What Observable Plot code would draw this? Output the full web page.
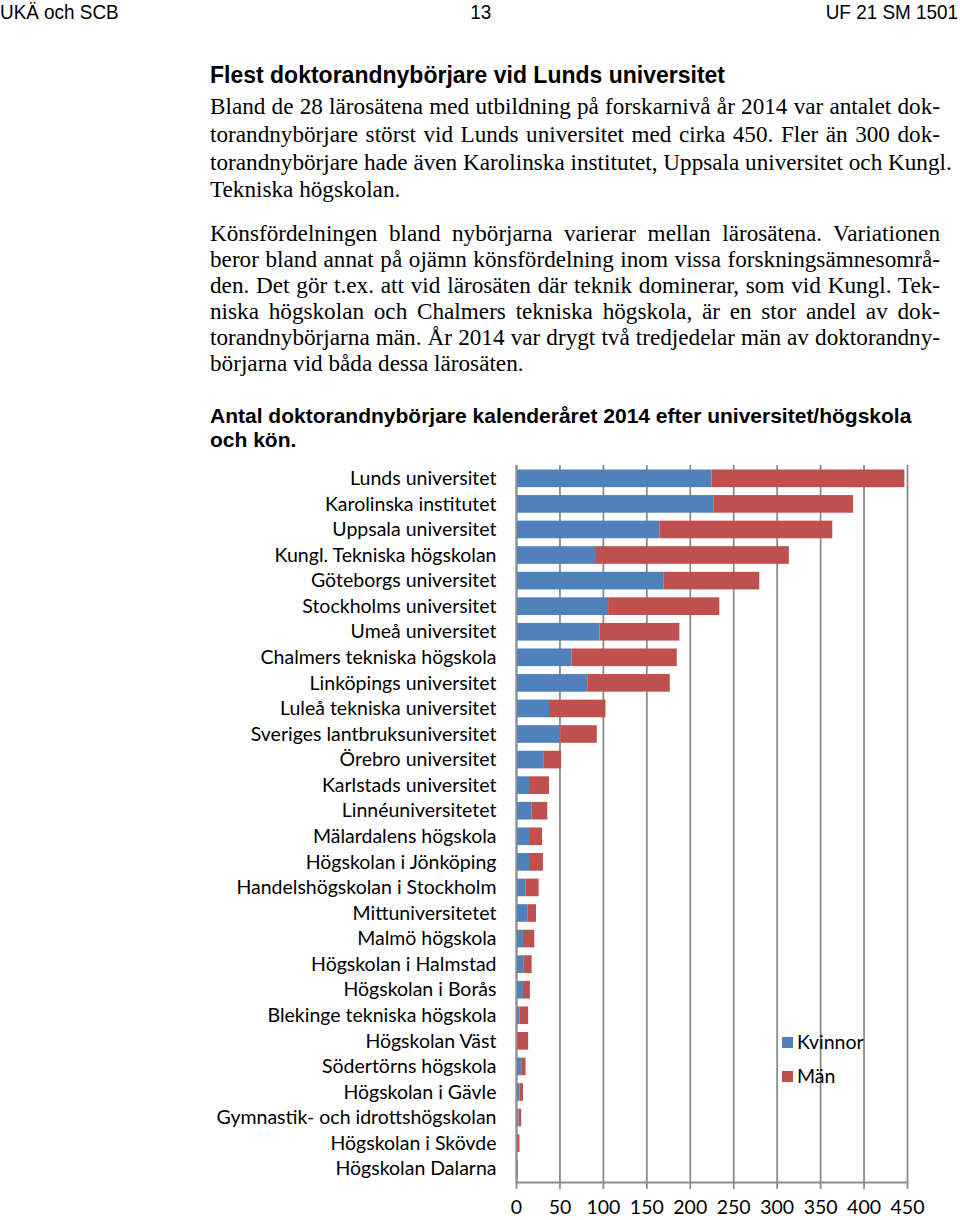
<!DOCTYPE html>
<html>
<head>
<meta charset="utf-8">
<script src="https://cdn.jsdelivr.net/npm/d3@7"></script>
<script src="https://cdn.jsdelivr.net/npm/@observablehq/plot@0.6"></script>
<style>
  html, body { margin:0; padding:0; background:#fff; }
  body { width:960px; height:1220px; position:relative; overflow:hidden; color:#000; }
  .hdr { position:absolute; top:0; font-family:"Liberation Sans Narrow","Liberation Sans",Arial,sans-serif; font-size:21px; line-height:24px; white-space:nowrap; }
  .hdr span { display:inline-block; transform:scaleX(0.9); }
  .h2 { position:absolute; left:210px; font-family:"Liberation Sans",Arial,sans-serif; font-weight:bold; font-size:23px; line-height:28px; white-space:nowrap; }
  .body { position:absolute; left:210px; width:730px; font-family:"Liberation Serif","Times New Roman",serif; font-size:23.2px; }
  .ln { height:0; position:absolute; left:0; width:730px; white-space:nowrap; }
  .ln span { display:block; position:absolute; left:0; width:730px; transform:translateY(-50%); text-align:justify; text-align-last:justify; }
  .ln.last span { text-align:left; text-align-last:left; }
  .ctitle { position:absolute; left:210px; font-family:"Liberation Sans",Arial,sans-serif; font-weight:bold; font-size:21px; line-height:24px; white-space:nowrap; }
  #chart { position:absolute; left:0; top:455px; line-height:0; }
  .leg { position:absolute; font-family:Lato,"Open Sans",sans-serif; font-size:19.5px; line-height:22px; }
  .sw { position:absolute; width:11px; height:11px; }
</style>
</head>
<body>
<div class="hdr" style="left:0;"><span style="transform-origin:left center;">UKÄ och SCB</span></div>
<div class="hdr" style="left:0;width:962px;text-align:center;"><span>13</span></div>
<div class="hdr" style="right:2px;"><span style="transform-origin:right center;">UF 21 SM 1501</span></div>

<div class="h2" style="top:61px;">Flest doktorandnybörjare vid Lunds universitet</div>

<div class="body" id="p1" style="top:0;"></div>

<div class="ctitle" style="top:404px;">Antal doktorandnybörjare kalenderåret 2014 efter universitet/högskola<br>och kön.</div>

<div id="chart"></div>

<div class="sw" style="left:782px;top:1037px;background:#4F81BD;"></div>
<div class="leg" style="left:797px;top:1031px;">Kvinnor</div>
<div class="sw" style="left:782px;top:1071px;background:#C0504D;"></div>
<div class="leg" style="left:797px;top:1065px;">Män</div>

<script>
// ---- text lines ----
const bodyLines = [
  ["Bland de 28 lärosätena med utbildning på forskarnivå år 2014 var antalet dok-", 106, false],
  ["torandnybörjare störst vid Lunds universitet med cirka 450. Fler än 300 dok-", 134, false],
  ["torandnybörjare hade även Karolinska institutet, Uppsala universitet och Kungl.", 162, false],
  ["Tekniska högskolan.", 189, true],
  ["Könsfördelningen bland nybörjarna varierar mellan lärosätena. Variationen", 233, false],
  ["beror bland annat på ojämn könsfördelning inom vissa forskningsämnesområ-", 259, false],
  ["den. Det gör t.ex. att vid lärosäten där teknik dominerar, som vid Kungl. Tek-", 285, false],
  ["niska högskolan och Chalmers tekniska högskola, är en stor andel av dok-", 311, false],
  ["torandnybörjarna män. År 2014 var drygt två tredjedelar män av doktorandny-", 337, false],
  ["börjarna vid båda dessa lärosäten.", 363, true]
];
const p1 = document.getElementById("p1");
for (const [t, y, last] of bodyLines) {
  const d = document.createElement("div");
  d.className = "ln" + (last ? " last" : "");
  d.style.top = y + "px";
  const s = document.createElement("span");
  s.textContent = t;
  d.appendChild(s);
  p1.appendChild(d);
}

// ---- data ----
const categories = [
  "Lunds universitet","Karolinska institutet","Uppsala universitet","Kungl. Tekniska högskolan",
  "Göteborgs universitet","Stockholms universitet","Umeå universitet","Chalmers tekniska högskola",
  "Linköpings universitet","Luleå tekniska universitet","Sveriges lantbruksuniversitet","Örebro universitet",
  "Karlstads universitet","Linnéuniversitetet","Mälardalens högskola","Högskolan i Jönköping",
  "Handelshögskolan i Stockholm","Mittuniversitetet","Malmö högskola","Högskolan i Halmstad",
  "Högskolan i Borås","Blekinge tekniska högskola","Högskolan Väst","Södertörns högskola",
  "Högskolan i Gävle","Gymnastik- och idrottshögskolan","Högskolan i Skövde","Högskolan Dalarna"
];
const kvinnor = [225,227,165,91,170,106,96,64,82,38,51,32,15,18,15,15,11,13,8,9,8,4,1,6,4,3,0,0];
const man     = [222,161,199,223,110,128,92,121,95,65,42,20,23,18,15,16,15,10,13,9,8,10,13,5,4,3,4,2];
const series = ["Kvinnor","Män"];
const seriesColors = ["#4F81BD","#C0504D"];
const xTicks = [0,50,100,150,200,250,300,350,400,450];

const data = categories.flatMap((c, i) => [
  {lärosäte: c, kön: series[0], antal: kvinnor[i]},
  {lärosäte: c, kön: series[1], antal: man[i]}
]);

const gray = "#8c8c8c";
const chart = Plot.plot({
  width: 960,
  height: 765,
  marginLeft: 516,
  marginRight: 53,
  marginTop: 10,
  marginBottom: 38,
  style: {fontFamily: "Lato, 'Open Sans', sans-serif", background: "transparent", color: "#000"},
  x: {domain: [0, 450], label: null},
  y: {domain: categories, label: null, paddingInner: 0.31, paddingOuter: 0.176, round: false},
  color: {domain: series, range: seriesColors},
  marks: [
    Plot.gridX(xTicks, {stroke: gray, strokeOpacity: 1, strokeWidth: 1.8}),
    Plot.barX(data, Plot.stackX({x: "antal", y: "lärosäte", fill: "kön", order: series})),
    Plot.ruleX([0], {stroke: gray, strokeWidth: 1.8}),
    Plot.frame({anchor: "bottom", stroke: gray, strokeWidth: 1.8}),
    Plot.axisX({ticks: xTicks, tickSize: 7, tickPadding: 11, fontSize: 19.5, stroke: gray, strokeWidth: 1.8, tickFormat: d => String(d)}),
    Plot.axisY({tickSize: 0, tickPadding: 20, fontSize: 19.5})
  ]
});
document.getElementById("chart").appendChild(chart);
</script>
</body>
</html>
